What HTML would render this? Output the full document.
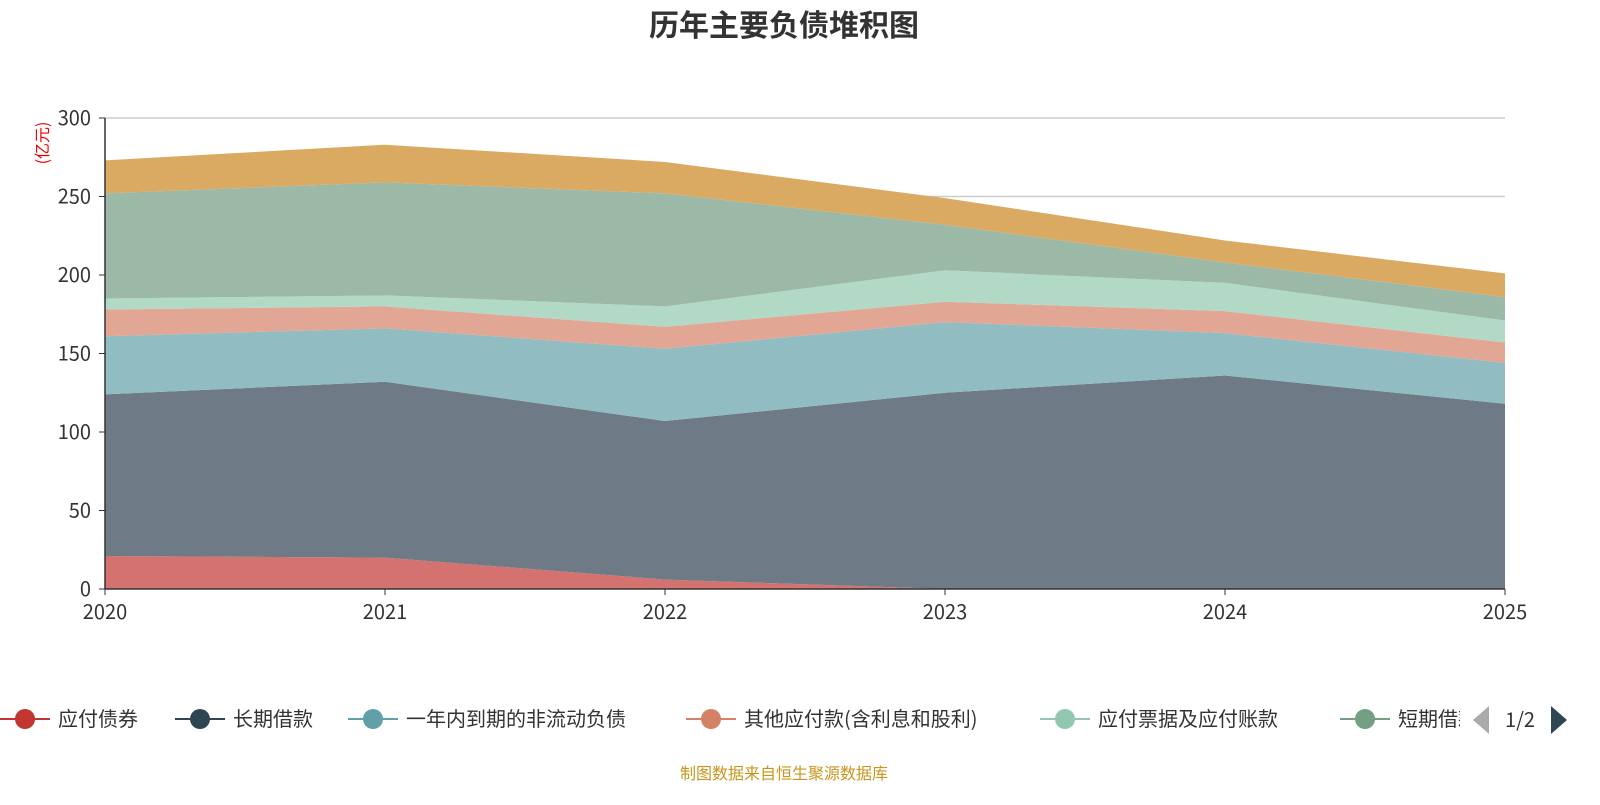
<!DOCTYPE html>
<html><head><meta charset="utf-8">
<style>
body{margin:0;background:#fff;width:1600px;height:800px;overflow:hidden;font-family:"Noto Sans CJK SC","Liberation Sans",sans-serif;}
svg text{font-family:"Noto Sans CJK SC","Liberation Sans",sans-serif;}
</style></head>
<body>
<svg id="c" width="1600" height="800">
<text x="784" y="36" text-anchor="middle" font-size="30" font-weight="bold" fill="#333">历年主要负债堆积图</text>
<text transform="translate(48,143) rotate(-90)" text-anchor="middle" font-size="16" fill="#e00">(亿元)</text>
<g id="grid"></g><g id="areas"></g><g id="axes"></g>
<g id="legend"></g>
<text x="784" y="779" text-anchor="middle" font-size="16" fill="#c8961e">制图数据来自恒生聚源数据库</text>
</svg>
<script>
const years=["2020","2021","2022","2023","2024","2025"];
const seriesNames=["应付债券","长期借款","一年内到期的非流动负债","其他应付款(含利息和股利)","应付票据及应付账款","短期借款","其他负债"];
const s0=[21,20,6,0,0,0];
const s1=[103,112,101,125,136,118];
const s2=[37,34,46,45,27,26];
const s3=[17,14,14,13,14,13];
const s4=[7,7,13,20,18,14];
const s5=[67,72,72,29,13,15];
const s6=[21,24,20,17,14,15];
const yTicks=[0,50,100,150,200,250,300];
const series=[s0,s1,s2,s3,s4,s5,s6];
const fills=["#d47270","#6e7b86","#90bcc2","#e1a794","#b1d9c6","#9cb9a8","#daa962"];
const lineCols=["#c23531","#2f4554","#61a0a8","#d48265","#91c7ae","#749f83","#ca8622"];
const NS="http://www.w3.org/2000/svg";
const X0=105,X1=1505,Y0=589,Y1=118,YMAX=300;
const xs=i=>X0+(X1-X0)*i/(years.length-1);
const ys=v=>Y0-(Y0-Y1)*v/YMAX;
function mk(t,a,p){const e=document.createElementNS(NS,t);for(const k in a)e.setAttribute(k,a[k]);p.appendChild(e);return e;}
const grid=document.getElementById('grid'),areas=document.getElementById('areas'),axes=document.getElementById('axes'),leg=document.getElementById('legend');
yTicks.forEach(v=>{
  if(v>0){const l=mk('line',{x1:X0,x2:X1,y1:ys(v),y2:ys(v),stroke:'#ccc','stroke-width':1.5},grid);
  
  }
  const t=mk('text',{x:X0-14,y:ys(v)+7,'text-anchor':'end','font-size':20,fill:'#333'},axes);t.textContent=v;
  
  
  mk('line',{x1:X0-6,x2:X0,y1:ys(v),y2:ys(v),stroke:'#333'},axes);
});
let base=years.map(()=>0);
series.forEach((s,k)=>{
  const top=base.map((b,i)=>b+s[i]);
  let d='M'+years.map((_,i)=>xs(i)+','+ys(top[i])).join('L');
  for(let i=years.length-1;i>=0;i--)d+='L'+xs(i)+','+ys(base[i]);
  const p=mk('path',{d:d+'Z',fill:fills[k]},areas);
  
  
  base=top;
});
mk('line',{x1:X0,x2:X0,y1:Y1,y2:Y0,stroke:'#333','stroke-width':1.5},axes);
mk('line',{x1:X0,x2:X1,y1:Y0,y2:Y0,stroke:'#333','stroke-width':1.5},axes);
years.forEach((y,i)=>{
  mk('line',{x1:xs(i),x2:xs(i),y1:Y0,y2:Y0+6,stroke:'#333'},axes);
  const t=mk('text',{x:xs(i),y:Y0+30,'text-anchor':'middle','font-size':20,fill:'#333'},axes);t.textContent=y;
  
  
});
const lx=[0,175,348,686,1040,1340];
lx.forEach((x,k)=>{
  const g=mk('g',{},leg);
  
  
  mk('line',{x1:x,x2:x+50,y1:719,y2:719,stroke:lineCols[k],'stroke-width':2},g);
  mk('circle',{cx:x+25,cy:719,r:10,fill:lineCols[k]},g);
  const t=mk('text',{x:x+58,y:726,'font-size':20,fill:'#333'},g);t.textContent=seriesNames[k];
});
mk('rect',{x:1460,y:690,width:140,height:60,fill:'#fff'},leg);
const pl=mk('path',{d:'M1489,706L1489,734L1473,720Z',fill:'#aaa'},leg);


const pt=mk('text',{x:1520,y:727,'text-anchor':'middle','font-size':20,fill:'#333'},leg);pt.textContent='1/2';


const pn=mk('path',{d:'M1551,706L1551,734L1567,720Z',fill:'#2f4554'},leg);


</script>
</body></html>
